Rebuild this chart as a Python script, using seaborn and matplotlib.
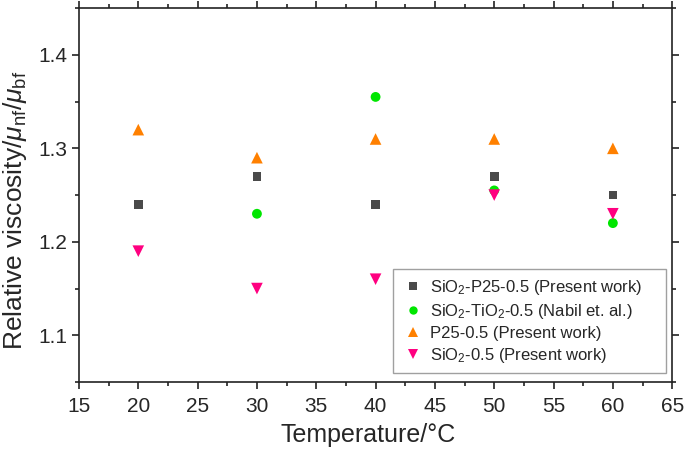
import numpy as np
import pandas as pd
import seaborn as sns
import matplotlib.pyplot as plt
from matplotlib.ticker import MultipleLocator

# ---- data ----
temps = [20, 30, 40, 50, 60]
sio2_p25 = [1.24, 1.27, 1.24, 1.27, 1.25]
sio2_tio2_temps = [30, 40, 50, 60]
sio2_tio2 = [1.23, 1.355, 1.255, 1.22]
p25 = [1.32, 1.29, 1.31, 1.31, 1.30]
sio2 = [1.19, 1.15, 1.16, 1.25, 1.23]

labels = [
    "SiO$_2$-P25-0.5 (Present work)",
    "SiO$_2$-TiO$_2$-0.5 (Nabil et. al.)",
    "P25-0.5 (Present work)",
    "SiO$_2$-0.5 (Present work)",
]
colors = ["#4a4a4a", "#00e600", "#ff8000", "#ff0080"]
markers = ["s", "o", "^", "v"]
marker_sizes = [38, 50, 70, 70]

df = pd.concat([
    pd.DataFrame({"T": temps, "v": sio2_p25, "s": labels[0]}),
    pd.DataFrame({"T": sio2_tio2_temps, "v": sio2_tio2, "s": labels[1]}),
    pd.DataFrame({"T": temps, "v": p25, "s": labels[2]}),
    pd.DataFrame({"T": temps, "v": sio2, "s": labels[3]}),
], ignore_index=True)

sns.set_style("ticks")
plt.rcParams["font.family"] = ["Liberation Sans", "DejaVu Sans"]
plt.rcParams["mathtext.fontset"] = "custom"
plt.rcParams["mathtext.rm"] = "Liberation Sans"
plt.rcParams["mathtext.it"] = "Liberation Sans:italic"

fig = plt.figure(figsize=(6.85, 4.5), dpi=100)
ax = fig.add_axes([0.1153, 0.151, 0.866, 0.831])

sns.scatterplot(data=df, x="T", y="v", hue="s", style="s", size="s",
                hue_order=labels, style_order=labels, size_order=labels,
                palette=dict(zip(labels, colors)),
                markers=dict(zip(labels, markers)),
                sizes=dict(zip(labels, marker_sizes)),
                linewidth=0, ax=ax)

ax.set_xlim(15, 65)
ax.set_ylim(1.05, 1.45)
ax.xaxis.set_major_locator(MultipleLocator(5))
ax.xaxis.set_minor_locator(MultipleLocator(2.5))
ax.yaxis.set_major_locator(MultipleLocator(0.1))
ax.yaxis.set_minor_locator(MultipleLocator(0.05))

for sp in ax.spines.values():
    sp.set_visible(True)
    sp.set_linewidth(1.2)
    sp.set_color("#222222")
ax.tick_params(which="both", direction="out", top=True, right=True,
               width=1.2, color="#222222")
ax.tick_params(which="major", length=5, labelsize=15)
ax.tick_params(axis="x", which="major", pad=6)
ax.tick_params(which="minor", length=3)

ax.set_xlabel("Temperature/°C", fontsize=18)
ax.xaxis.set_label_coords(0.487, -0.11)
ax.set_ylabel(r"Relative viscosity/$\mu_{\mathrm{nf}}$/$\mu_{\mathrm{bf}}$", fontsize=19)
ax.yaxis.set_label_coords(-0.085, 0.46)

leg = ax.legend(loc="lower left", bbox_to_anchor=(0.53, 0.024, 0.46, 0.27),
                mode="expand", fontsize=12,
                frameon=True, fancybox=False, edgecolor="#888888",
                markerscale=0.85, handlelength=1.4, handletextpad=0.3,
                labelspacing=0.3, borderpad=0.5, borderaxespad=0)
leg.get_frame().set_linewidth(1.0)

fig.savefig("out.png", dpi=100)
